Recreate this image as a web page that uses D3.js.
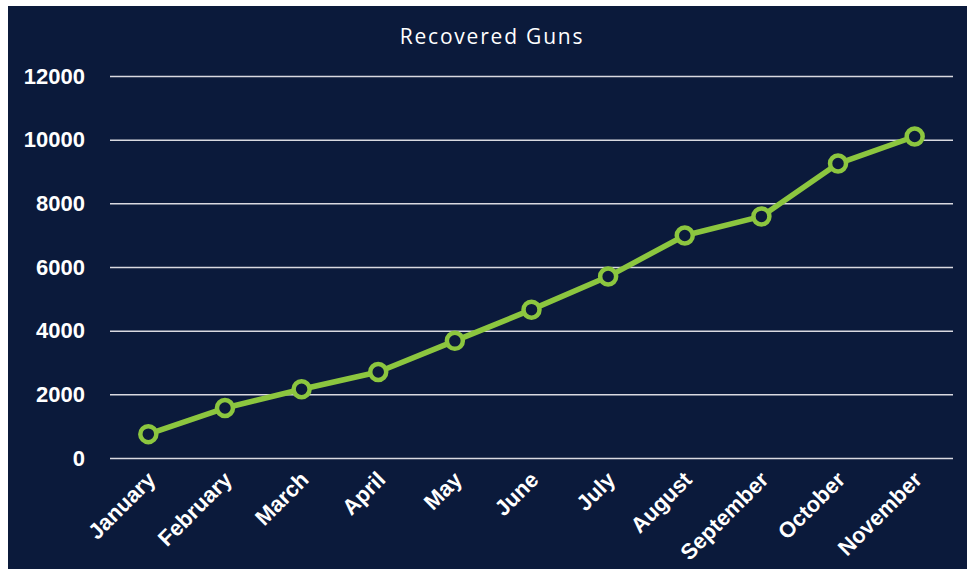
<!DOCTYPE html>
<html>
<head>
<script src="https://cdn.jsdelivr.net/npm/d3@7"></script>
<style>
  body { margin: 0; background: #fff; }
</style>
</head>
<body>
<svg id="canvas" width="967" height="569"></svg>
<script>
var months = ["January", "February", "March", "April", "May", "June", "July",
              "August", "September", "October", "November"];
var guns = [750, 1570, 2160, 2700, 3680, 4660, 5700, 6990, 7590, 9250, 10100];
var yTicks = [0, 2000, 4000, 6000, 8000, 10000, 12000];

var svg = d3.select("#canvas");
var navy = "#0b1a3b";
var green = "#8cc63f";

svg.append("rect")
    .attr("x", 8).attr("y", 6)
    .attr("width", 967 - 8).attr("height", 569 - 6)
    .attr("fill", navy);

var margin = {top: 76, left: 110, right: 14, bottom: 111};
var width = 953 - margin.left;
var height = 458 - margin.top;

var g = svg.append("g")
    .attr("transform", "translate(" + margin.left + "," + margin.top + ")");

var x = d3.scalePoint().domain(months).range([0, width]).padding(0.5);
var y = d3.scaleLinear().domain([0, 12000]).range([height, 0]);

// gridlines + y labels
var yAxis = g.append("g")
    .call(d3.axisLeft(y).tickValues(yTicks).tickSize(-width).tickPadding(25).tickFormat(d3.format("d")));
yAxis.select(".domain").remove();
yAxis.selectAll(".tick line").attr("stroke", "#d9d9e0").attr("stroke-width", 1.5);
yAxis.selectAll(".tick text")
    .attr("fill", "#fff")
    .attr("font-family", "Liberation Sans, Arial, sans-serif")
    .attr("font-weight", "bold")
    .attr("font-size", 22);

// x labels
var xAxis = g.append("g")
    .attr("transform", "translate(0," + height + ")")
    .call(d3.axisBottom(x).tickSize(0).tickPadding(0));
xAxis.select(".domain").remove();
xAxis.selectAll(".tick text")
    .attr("fill", "#fff")
    .attr("font-family", "Liberation Sans, Arial, sans-serif")
    .attr("font-weight", "bold")
    .attr("font-size", 22)
    .attr("text-anchor", "end")
    .attr("dy", 0)
    .attr("transform", "translate(8,23) rotate(-45)");

// line
var line = d3.line()
    .x(function(d, i) { return x(months[i]); })
    .y(function(d) { return y(d); });

g.append("path")
    .datum(guns)
    .attr("d", line)
    .attr("fill", "none")
    .attr("stroke", green)
    .attr("stroke-width", 5.5)
    .attr("stroke-linejoin", "round");

g.selectAll("circle")
    .data(guns)
    .enter().append("circle")
    .attr("cx", function(d, i) { return x(months[i]); })
    .attr("cy", function(d) { return y(d); })
    .attr("r", 8)
    .attr("fill", navy)
    .attr("stroke", green)
    .attr("stroke-width", 4.5);

// title
svg.append("text")
    .attr("x", 492).attr("y", 44)
    .attr("text-anchor", "middle")
    .attr("fill", "#fff")
    .attr("font-family", "Open Sans, sans-serif")
    .attr("font-size", 21)
    .attr("letter-spacing", 1.8)
    .text("Recovered Guns");
</script>
</body>
</html>
